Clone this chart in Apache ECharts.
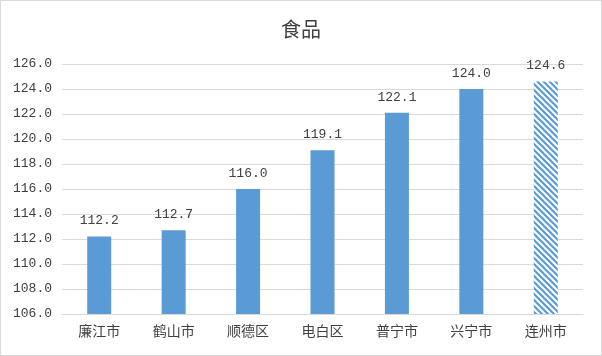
<!DOCTYPE html>
<html><head><meta charset="utf-8">
<script src="https://cdn.jsdelivr.net/npm/echarts@6/dist/echarts.min.js"></script>
<style>
html,body{margin:0;padding:0;background:#fff;}
#wrap{position:absolute;left:0;top:0;width:600px;height:354px;border:1px solid #d9d9d9;}
#c{width:600px;height:354px;}
</style></head>
<body><div id="wrap"><div id="c"></div></div>
<script>
const categories = ['廉江市','鹤山市','顺德区','电白区','普宁市','兴宁市','连州市'];
const values = [112.2, 112.7, 116.0, 119.1, 122.1, 124.0, 124.6];
const hatchedIndex = 6;
const yMin = 106, yMax = 126, yStep = 2;

function makePattern(){
  const s = 6;
  const cv = document.createElement('canvas');
  cv.width = s; cv.height = s;
  const ctx = cv.getContext('2d');
  ctx.fillStyle = '#ffffff';
  ctx.fillRect(0,0,s,s);
  ctx.strokeStyle = '#5b9bd5';
  ctx.lineWidth = 2.2;
  ctx.beginPath();
  ctx.moveTo(-1,-1); ctx.lineTo(s+1,s+1);
  ctx.moveTo(-1,s-1); ctx.lineTo(1,s+1);
  ctx.moveTo(s-1,-1); ctx.lineTo(s+1,1);
  ctx.stroke();
  return cv;
}
const pattern = {image: makePattern(), repeat: 'repeat'};

const font = '"Noto Sans CJK SC", "Microsoft YaHei", sans-serif';
const numFont = '"Liberation Mono", "DejaVu Sans Mono", monospace';
const chart = echarts.init(document.getElementById('c'), null, {renderer:'canvas'});
chart.setOption({
  animation: false,
  title: {text: '食品', left: 'center', top: 13,
    textStyle: {fontFamily: font, fontSize: 20, fontWeight: 'normal', color: '#404040'}},
  grid: {left: 61, right: 18, top: 63, bottom: 41, containLabel: false},
  xAxis: {type: 'category', data: categories,
    axisLine: {lineStyle: {color: '#d9d9d9'}}, axisTick: {show: false},
    axisLabel: {fontFamily: font, fontSize: 14, color: '#404040', margin: 10}},
  yAxis: {type: 'value', min: yMin, max: yMax, interval: yStep,
    axisLine: {show: false}, axisTick: {show: false},
    splitLine: {lineStyle: {color: '#d9d9d9'}},
    axisLabel: {fontFamily: numFont, fontSize: 13, color: '#404040', margin: 10,
      formatter: v => v.toFixed(1)}},
  series: [{type: 'bar', barWidth: 24,
    data: values.map((v,i) => i === hatchedIndex ? {value: v, itemStyle: {color: pattern}} : v),
    itemStyle: {color: '#5b9bd5'},
    label: {show: true, position: 'top', distance: 9, fontFamily: numFont, fontSize: 13, color: '#404040',
      formatter: p => p.value.toFixed(1)}}]
});
</script></body></html>
